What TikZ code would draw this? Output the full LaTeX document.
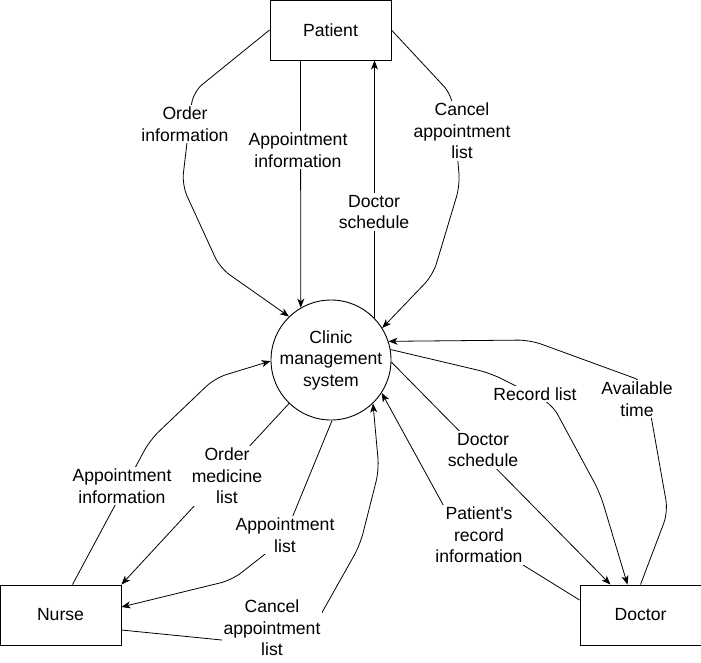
\documentclass[tikz,border=0pt]{standalone}
\usepackage{fontspec}
\setmainfont{Liberation Sans}
\usepackage{tikz}
\usetikzlibrary{arrows.meta,positioning,calc}
\newcommand{\dfdfont}{\fontsize{17.6}{21.5}\selectfont}

\begin{document}
\begin{tikzpicture}[x=1pt,y=-1pt,
	entity/.style={draw,line width=0.9pt,minimum width=121pt,minimum height=60pt,font=\dfdfont},
	process/.style={draw,circle,line width=0.9pt,minimum size=120pt,inner sep=0pt,align=center,font=\dfdfont},
	flow/.style={line width=0.8pt,rounded corners=12pt,-{Stealth[length=9pt,width=7pt,inset=2.5pt]}},
	lbl/.style={fill=white,inner sep=2pt,align=center,font=\dfdfont}]
		\useasboundingbox (0,0) rectangle (701,662);
		\node[entity] (patient) at (330.5,30) {Patient};
		\node[entity] (nurse) at (60.5,615) {Nurse};
		\node[entity] (doctor) at (640.5,615) {Doctor};
		\node[process] (cms) at (331,360) {Clinic\\management\\system};
		% patient
		\draw[flow] (patient.west) -- (193,92) -- (182,185) -- (220,268) -- (cms.134);
		\draw[flow] ([xshift=-30pt]patient.south) -- (cms.120);
		\draw[flow] (cms.44) -- (cms.44 |- patient.south);
		\draw[flow] (patient.east) -- (452,95) -- (460,185) -- (433,275) -- (cms.32);
		% nurse
		\draw[flow] ([xshift=12pt]nurse.north) -- (150,440) -- (215,378) -- (cms.181);
		\draw[flow] (cms.226) -- (nurse.north east);
		\draw[flow] (cms.271) -- (283,540) -- (232,580) -- ([yshift=8pt]nurse.east);
		\draw[flow] ([yshift=-15pt]nurse.east) -- (302,648) -- (360,545) -- (379,470) -- (cms.314);
		% doctor
		\draw[flow] (cms.10) -- (490,373) -- (552,404) -- (600,493) -- ([xshift=-13pt]doctor.north);
		\draw[flow] (doctor.north) -- (668,512) -- (645,382) -- (530,340) -- (cms.18);
		\draw[flow] (cms.358) -- ([xshift=-30pt]doctor.north);
		\draw[flow] ([yshift=15pt]doctor.west) -- (452,521) -- (cms.327);
		% labels
		\node[lbl] (l-order) at (185,124) {Order\\information};
		\node[lbl] (l-appinfo) at (298,150) {Appointment\\information};
		\node[lbl] (l-sched) at (374,212) {Doctor\\schedule};
		\node[lbl] (l-cancel) at (462,131) {Cancel\\appointment\\list};
		\node[lbl] (l-nappinfo) at (122,486) {Appointment\\information};
		\node[lbl] (l-medicine) at (227,476) {Order\\medicine\\list};
		\node[lbl] (l-applist) at (285,535) {Appointment\\list};
		\node[lbl] (l-ncancel) at (272,628) {Cancel\\appointment\\list};
		\node[lbl] (l-record) at (535,394) {Record list};
		\node[lbl] (l-avail) at (637,399) {Available\\time};
		\node[lbl] (l-dsched) at (483,450) {Doctor\\schedule};
		\node[lbl] (l-precord) at (479,535) {Patient\textquotesingle s\\record\\information};
	\end{tikzpicture}
\end{document}
